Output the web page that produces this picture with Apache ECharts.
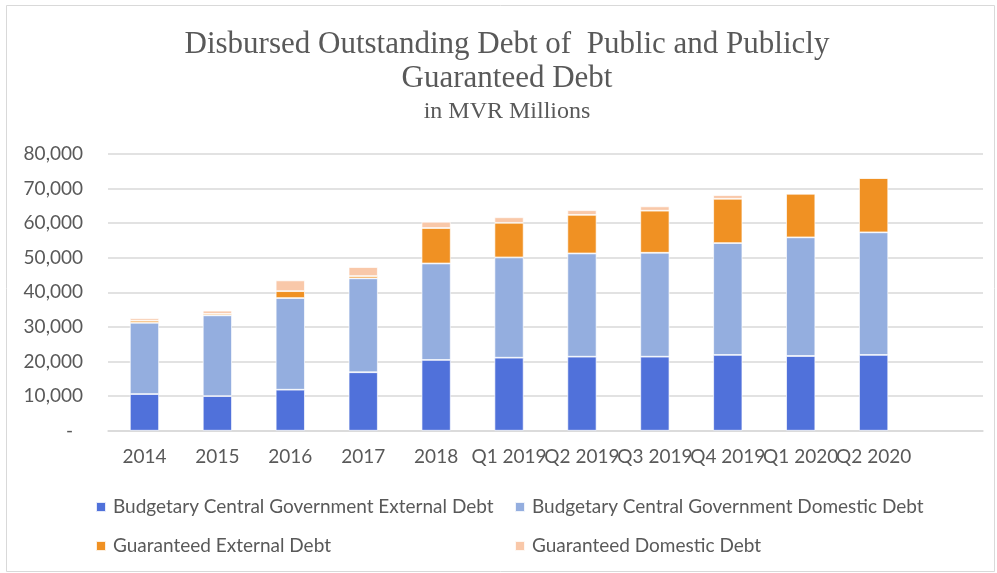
<!DOCTYPE html>
<html>
<head>
<meta charset="utf-8">
<script src="https://cdn.jsdelivr.net/npm/echarts@6/dist/echarts.min.js"></script>
<style>
  html, body { margin: 0; padding: 0; background: #fff; }
  #main { width: 997px; height: 573px; }
</style>
</head>
<body>
<div id="main"></div>
<script>
// values, MVR millions
const categories = ["2014", "2015", "2016", "2017", "2018", "Q1 2019", "Q2 2019", "Q3 2019", "Q4 2019", "Q1 2020", "Q2 2020", ""];
const centralExternal = [10600, 10000, 11850, 16900, 20450, 21100, 21400, 21400, 21900, 21600, 21900];
const centralDomestic = [20600, 23350, 26500, 27150, 27900, 29000, 29850, 30050, 32350, 34300, 35450];
const guaranteedExternal = [600, 450, 2000, 650, 10250, 10000, 11150, 12150, 12800, 12600, 15700];
const guaranteedDomestic = [700, 900, 3100, 2600, 1800, 1600, 1350, 1250, 1050, 150, 100];
const yTickLabels = ["-", "10,000", "20,000", "30,000", "40,000", "50,000", "60,000", "70,000", "80,000"];

const seriesNames = [
  "Budgetary Central Government External Debt",
  "Budgetary Central Government Domestic Debt",
  "Guaranteed External Debt",
  "Guaranteed Domestic Debt",
];
const colors = ["#5071da", "#94aedf", "#f09123", "#f9c8a9"];
const textColor = "#595959";
const labelFont = "Lato, 'Liberation Sans', sans-serif";
const serifFont = "'Liberation Serif', 'DejaVu Serif', serif";

const chart = echarts.init(document.getElementById("main"));

const makeBar = (name, data, color) => ({
  name,
  type: "bar",
  stack: "debt",
  data,
  barWidth: "40%",
  itemStyle: {
    color,
    borderColor: "rgba(255,255,255,0.85)",
    borderWidth: 0.8,
  },
});

const legendBase = {
  orient: "vertical",
  icon: "rect",
  itemWidth: 10,
  itemHeight: 10,
  itemGap: 19,
  top: 492,
  textStyle: {
    color: textColor,
    fontFamily: labelFont,
    fontSize: 19,
    lineHeight: 20,
    padding: [0, 0, 0, 2],
  },
};

chart.setOption({
  backgroundColor: "#fff",
  animation: false,
  color: colors,
  title: {
    text: "Disbursed Outstanding Debt of  Public and Publicly\nGuaranteed Debt",
    subtext: "in MVR Millions",
    left: 507,
    textAlign: "center",
    top: 28,
    padding: 0,
    itemGap: 4,
    textStyle: {
      fontFamily: serifFont,
      fontWeight: "normal",
      fontSize: 31,
      lineHeight: 34,
      color: textColor,
    },
    subtextStyle: {
      fontFamily: serifFont,
      fontSize: 24,
      lineHeight: 24,
      color: textColor,
    },
  },
  legend: [
    Object.assign({}, legendBase, { left: 90, data: [seriesNames[0], seriesNames[2]] }),
    Object.assign({}, legendBase, { left: 509, data: [seriesNames[1], seriesNames[3]] }),
  ],
  grid: {
    left: 108,
    right: 14,
    top: 154,
    bottom: 142.3,
    containLabel: false,
  },
  xAxis: {
    type: "category",
    data: categories,
    axisTick: { show: false },
    axisLine: { lineStyle: { color: "#d9d9d9", width: 1.5 } },
    axisLabel: {
      interval: 0,
      margin: 17,
      color: textColor,
      fontFamily: labelFont,
      fontSize: 19,
    },
  },
  yAxis: {
    type: "value",
    min: 0,
    max: 80000,
    interval: 10000,
    axisLine: { show: false },
    axisTick: { show: false },
    splitLine: { lineStyle: { color: "#d9d9d9", width: 1.5 } },
    axisLabel: {
      margin: 25,
      color: textColor,
      fontFamily: labelFont,
      fontSize: 19,
      formatter: (v) => {
        const label = yTickLabels[Math.round(v / 10000)];
        return v === 0 ? "{d|" + label + "}" : label;
      },
      rich: {
        d: { padding: [0, 10, 0, 0], color: textColor, fontFamily: labelFont, fontSize: 19 },
      },
    },
  },
  graphic: [
    {
      type: "rect",
      shape: { x: 6.5, y: 5.5, width: 988, height: 566 },
      style: { fill: "none", stroke: "#d9d9d9", lineWidth: 1 },
      silent: true,
    },
  ],
  series: [
    makeBar(seriesNames[0], centralExternal, colors[0]),
    makeBar(seriesNames[1], centralDomestic, colors[1]),
    makeBar(seriesNames[2], guaranteedExternal, colors[2]),
    makeBar(seriesNames[3], guaranteedDomestic, colors[3]),
  ],
});
</script>
</body>
</html>
